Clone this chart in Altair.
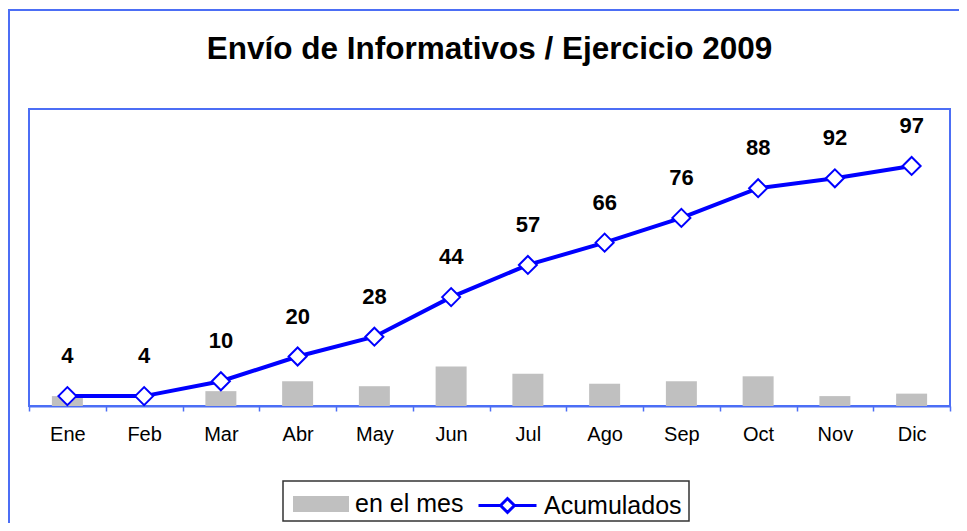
import altair as alt
import pandas as pd

# ---- data ----
meses = ["Ene", "Feb", "Mar", "Abr", "May", "Jun", "Jul", "Ago", "Sep", "Oct", "Nov", "Dic"]
en_el_mes = [4, 0, 6, 10, 8, 16, 13, 9, 10, 12, 4, 5]
acumulados = [4, 4, 10, 20, 28, 44, 57, 66, 76, 88, 92, 97]
serie_barras = "en el mes"
serie_linea = "Acumulados"
titulo = "Envío de Informativos / Ejercicio 2009"

df = pd.DataFrame({
    "mes": meses,
    "en_el_mes": en_el_mes,
    "acumulados": acumulados,
    "s1": serie_barras,
    "s2": serie_linea,
})
one = pd.DataFrame({"k": [0]})

FRAME = "#4c6ef5"
LINE = "#0000ff"
GRAY = "#c0c0c0"
FONT = "Liberation Sans"

x = alt.X(
    "mes:N", sort=meses,
    scale=alt.Scale(paddingInner=0, paddingOuter=0),
    axis=alt.Axis(title=None, labelAngle=0, labelFontSize=20, labelFont=FONT,
                  labelColor="black", labelPadding=13, tickBand="extent",
                  tickColor=FRAME, tickSize=5, tickWidth=1.5,
                  domainColor=FRAME, domainWidth=2, grid=False),
)
y_scale = alt.Scale(domain=[0, 120], nice=False, zero=True)

rect_path = "M-1,-0.286L1,-0.286L1,0.286L-1,0.286Z"
line_path = "M-1,0L-0.24,0M0.24,0L1,0M-0.24,0L0,-0.24L0.24,0L0,0.24Z"

frame = alt.Chart(one).mark_rect(fill="transparent", stroke=FRAME, strokeWidth=2).encode(
    x=alt.value(-20), x2=alt.value(1000), y=alt.value(-99), y2=alt.value(700)
)
legend_box = alt.Chart(one).mark_rect(fill="white", stroke="#333333", strokeWidth=1.5).encode(
    x=alt.value(254), x2=alt.value(660), y=alt.value(372), y2=alt.value(412)
)

bars = alt.Chart(df).mark_bar(size=31).encode(
    x=x,
    y=alt.Y("en_el_mes:Q", scale=y_scale, axis=None),
    fill=alt.Fill("s1:N", scale=alt.Scale(domain=[serie_barras], range=[GRAY]),
                  legend=alt.Legend(title=None, orient="none", legendX=264, legendY=367,
                                    symbolType=rect_path, symbolSize=3136, symbolStrokeWidth=0,
                                    labelFontSize=25, labelFont=FONT, labelColor="black",
                                    labelOffset=6, padding=0)),
)

line = alt.Chart(df).mark_line(strokeWidth=4).encode(
    x=x,
    y=alt.Y("acumulados:Q", scale=y_scale, axis=None),
    stroke=alt.Stroke("s2:N", scale=alt.Scale(domain=[serie_linea], range=[LINE]),
                      legend=alt.Legend(title=None, orient="none", legendX=448, legendY=366,
                                        symbolType=line_path, symbolSize=3364, symbolStrokeWidth=3,
                                        symbolFillColor="white",
                                        labelFontSize=25, labelFont=FONT, labelColor="black",
                                        labelOffset=6, padding=0)),
)

points = alt.Chart(df).mark_point(shape="diamond", size=324, filled=True, fill="white",
                                  stroke=LINE, strokeWidth=2, opacity=1).encode(
    x=x, y=alt.Y("acumulados:Q", scale=y_scale, axis=None)
)

labels = alt.Chart(df).mark_text(dy=-40, fontSize=22, fontWeight="bold", font=FONT,
                                 color="black").encode(
    x=x, y=alt.Y("acumulados:Q", scale=y_scale, axis=None), text="acumulados:Q"
)

chart = alt.layer(frame, legend_box, bars, line, points, labels).properties(
    width=921, height=297,
    autosize=alt.AutoSizeParams(type="none"),
    padding={"left": 21, "top": 101, "right": 9, "bottom": 117},
    title=alt.Title(titulo, fontSize=31.5, font=FONT, fontWeight="bold", color="black",
                    anchor="middle", frame="group", offset=-56),
).configure_view(stroke=FRAME, strokeWidth=2)

chart.save("out.html", embed_options={"renderer": "svg", "actions": False})
